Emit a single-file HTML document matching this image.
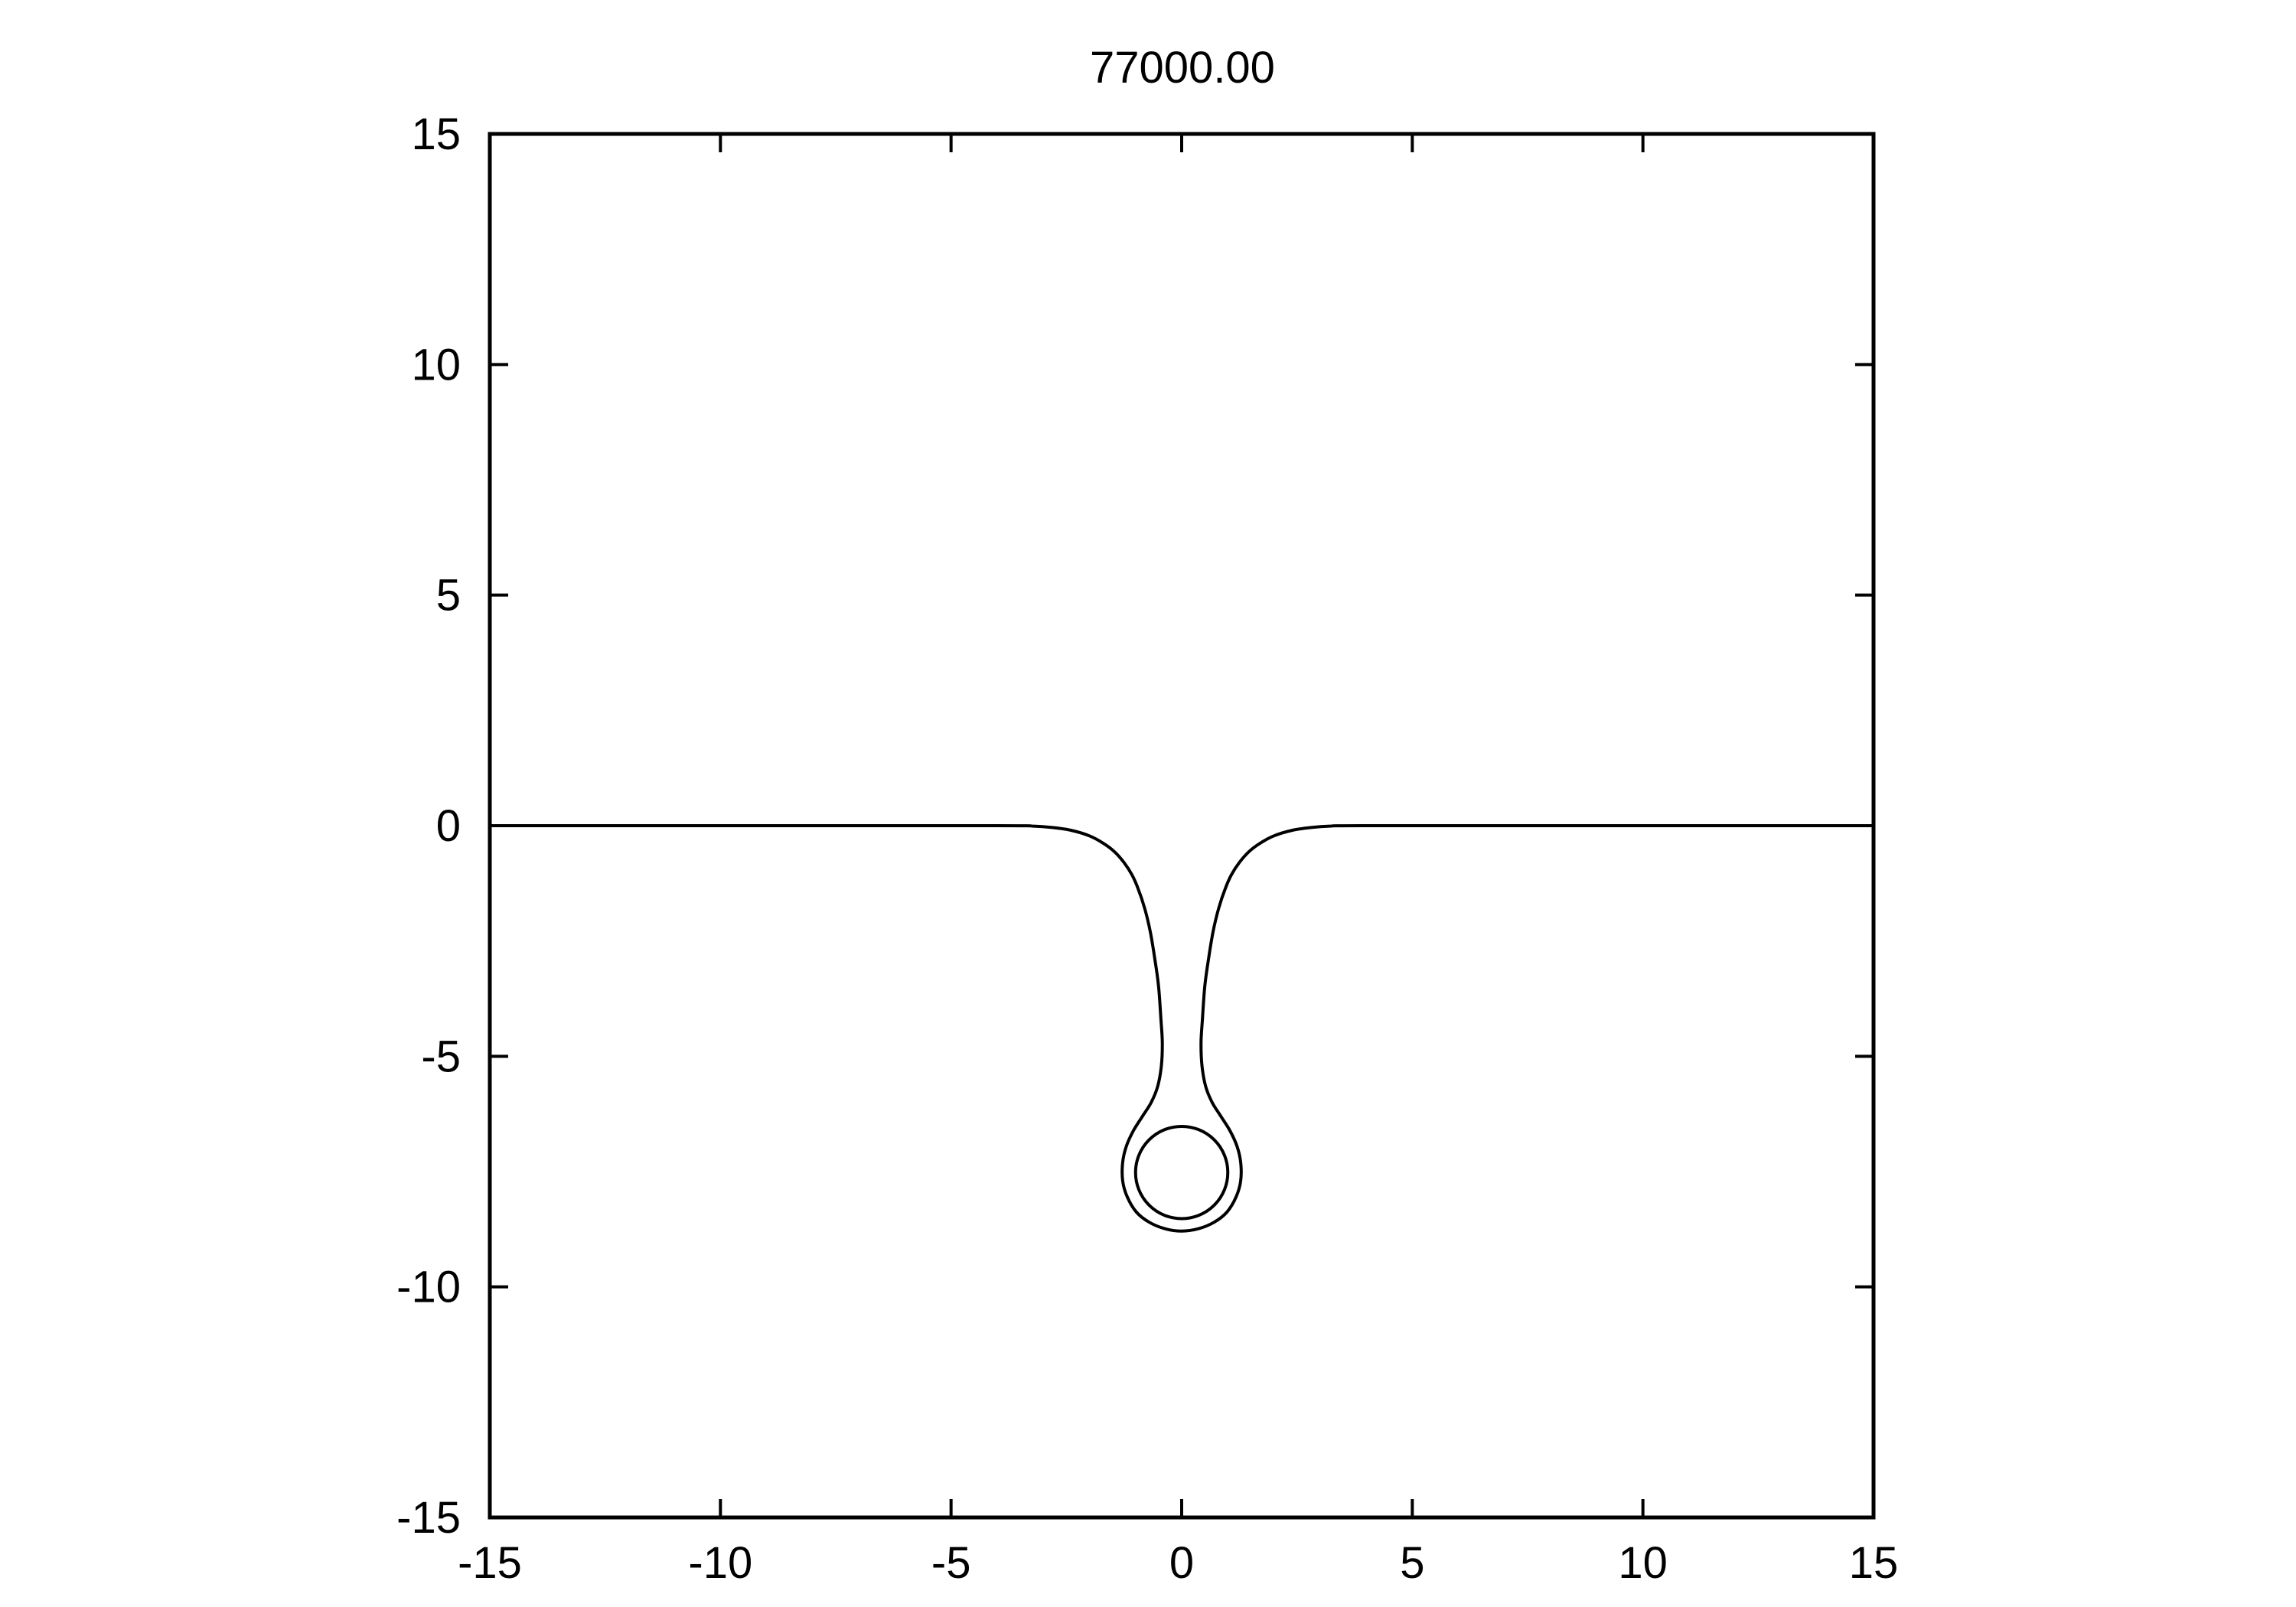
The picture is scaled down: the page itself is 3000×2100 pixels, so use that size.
<!DOCTYPE html>
<html><head><meta charset="utf-8"><style>
html,body{margin:0;padding:0;background:#fff;}
svg{display:block;}
text{font-family:"Liberation Sans",Arial,sans-serif;font-size:58px;fill:#000;}
</style></head><body>
<svg id="chart" width="3000" height="2100" viewBox="0 0 3000 2100" xmlns="http://www.w3.org/2000/svg">
<text x="1545" y="108" text-anchor="middle">77000.00</text>
<g id="marks"></g>
<g id="axes"></g>
</svg>
<script>
const xTicks = [-15,-10,-5,0,5,10,15];
const yTicks = [-15,-10,-5,0,5,10,15];
const xTickLabels = ["-15","-10","-5","0","5","10","15"];
const yTickLabels = ["-15","-10","-5","0","5","10","15"];
// left half of the interface curve (x, y), mirrored for the right half
const curveX = [-15,-9.5,-4,-3.2,-2.8,-2.4,-2.0,-1.7,-1.45,-1.25,-1.08,-0.95,-0.8,-0.68,-0.58,-0.5,-0.45,-0.42,-0.44,-0.52,-0.66,-0.85,-1.05,-1.2,-1.28,-1.28,-1.18,-0.98,-0.7,-0.36,0];
const curveY = [0,0,0,-0.01,-0.04,-0.1,-0.22,-0.38,-0.57,-0.8,-1.06,-1.35,-1.8,-2.3,-2.9,-3.5,-4.2,-4.7,-5.2,-5.65,-6.0,-6.3,-6.62,-6.95,-7.3,-7.7,-8.05,-8.38,-8.6,-8.74,-8.79];
const circleCenter = [0,-7.52];
const circleRadius = [1.0];

const L=640,R=2448,T=175,B=1983;
const sx=v=>L+(v+15)/30*(R-L);
const sy=v=>B-(v+15)/30*(B-T);
const NS="http://www.w3.org/2000/svg";
const marks=document.getElementById('marks');
const axes=document.getElementById('axes');

function catmull(pts){
  let d=`M${pts[0][0].toFixed(1)},${pts[0][1].toFixed(1)}`;
  for(let i=0;i<pts.length-1;i++){
    const p0=pts[Math.max(0,i-1)],p1=pts[i],p2=pts[i+1],p3=pts[Math.min(pts.length-1,i+2)];
    const c1=[p1[0]+(p2[0]-p0[0])/6,p1[1]+(p2[1]-p0[1])/6];
    const c2=[p2[0]-(p3[0]-p1[0])/6,p2[1]-(p3[1]-p1[1])/6];
    d+=`C${c1[0].toFixed(1)},${c1[1].toFixed(1)} ${c2[0].toFixed(1)},${c2[1].toFixed(1)} ${p2[0].toFixed(1)},${p2[1].toFixed(1)}`;
  }
  return d;
}
const pts=[];
for(let i=0;i<curveX.length;i++) pts.push([sx(curveX[i]),sy(curveY[i])]);
for(let i=curveX.length-2;i>=0;i--) pts.push([sx(-curveX[i]),sy(curveY[i])]);
const path=document.createElementNS(NS,'path');


path.setAttribute('d',catmull(pts));
path.setAttribute('fill','none');path.setAttribute('stroke','#000');path.setAttribute('stroke-width','4');
path.setAttribute('stroke-linejoin','round');
marks.appendChild(path);

const circ=document.createElementNS(NS,'circle');


circ.setAttribute('cx',sx(circleCenter[0]));circ.setAttribute('cy',sy(circleCenter[1]));
circ.setAttribute('r',(sx(circleRadius[0])-sx(0)));
circ.setAttribute('fill','none');circ.setAttribute('stroke','#000');circ.setAttribute('stroke-width','4');
marks.appendChild(circ);

function line(x1,y1,x2,y2,name){
  const l=document.createElementNS(NS,'line');
  
  
  l.setAttribute('x1',x1);l.setAttribute('y1',y1);l.setAttribute('x2',x2);l.setAttribute('y2',y2);
  l.setAttribute('stroke','#000');l.setAttribute('stroke-width','4');
  axes.appendChild(l);
}
const frame=document.createElementNS(NS,'rect');


frame.setAttribute('x',L);frame.setAttribute('y',T);frame.setAttribute('width',R-L);frame.setAttribute('height',B-T);
frame.setAttribute('fill','none');frame.setAttribute('stroke','#000');frame.setAttribute('stroke-width','5');
axes.appendChild(frame);
const tl=24;
xTicks.forEach((v,i)=>{
  const x=sx(v);
  line(x,B,x,B-tl,'x-tick');
  line(x,T,x,T+tl,'x-tick-top');
  const t=document.createElementNS(NS,'text');
  
  
  t.setAttribute('x',x);t.setAttribute('y',2062);t.setAttribute('text-anchor','middle');
  t.textContent=xTickLabels[i];axes.appendChild(t);
});
yTicks.forEach((v,i)=>{
  const y=sy(v);
  line(L,y,L+tl,y,'y-tick');
  line(R,y,R-tl,y,'y-tick-right');
  const t=document.createElementNS(NS,'text');
  
  
  t.setAttribute('x',602);t.setAttribute('y',y+20);t.setAttribute('text-anchor','end');
  t.textContent=yTickLabels[i];axes.appendChild(t);
});
</script>
</body></html>
